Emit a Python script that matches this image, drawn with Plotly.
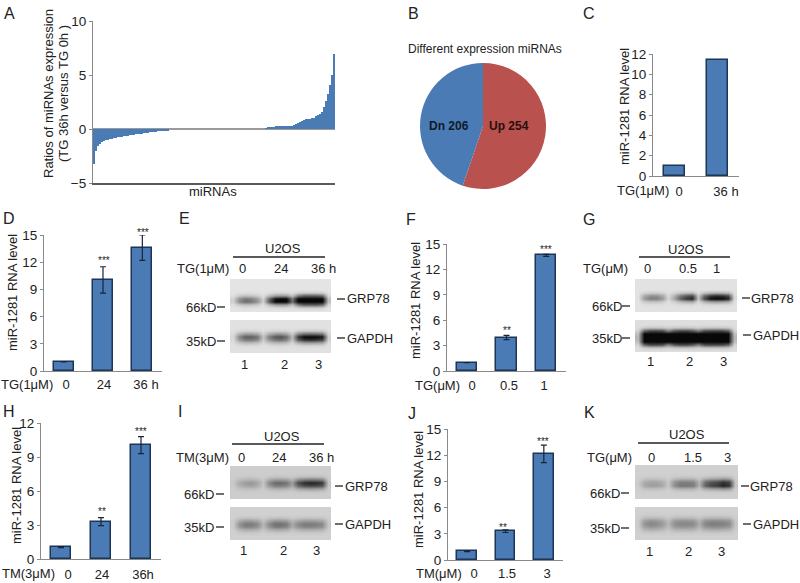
import numpy as np
import plotly.graph_objects as go

W, H = 800, 583
BLUE = "#4a7bb5"
RED = "#b9524f"
EDGE = "#1d3557"
AXIS = "#8a8a8a"
TXT = "#222222"
FONT = "Liberation Sans"

# Panel A: ratios, sorted
ratio_down = [-3.2,-2.0,-1.6,-1.35,-1.2,-1.1,-1.05,-1.0,-0.95,-0.9,-0.85,-0.8,-0.78,-0.75,-0.7,-0.68,-0.65,-0.62,-0.6,
              -0.55,-0.52,-0.5,-0.48,-0.45,-0.42,-0.4,-0.38,-0.35,-0.32,-0.3,-0.28,-0.25,-0.22,-0.2,-0.18,-0.15,-0.12,-0.1]
ratio_flat = [0.0]*48
ratio_up = [0.05,0.1,0.12,0.15,0.2,0.25,0.25,0.25,0.25,0.25,0.28,0.28,0.3,0.3,0.35,0.45,0.55,0.65,0.72,0.8,0.9,
            0.95,0.95,1.0,1.05,1.2,1.3,1.4,1.6,2.0,2.6,3.2,4.1,5.0,6.9]
# Panel B
pie_labels = ["Up 254", "Dn 206"]
pie_values = [254, 206]
# Panel C
c_values = [1, 11.4]
# Panels D, F, H, J
d_values = [1, 10.05, 13.6];  d_err = [0, 1.45, 1.4]
f_values = [1, 3.95, 13.65];  f_err = [0, 0.25, 0.12]
h_values = [1.05, 3.3, 10.05]; h_err = [0.05, 0.35, 0.75]
j_values = [1.0, 3.3, 12.15]; j_err = [0.05, 0.15, 1.0]

# Blots: column darkness across the lanes, row weight down the membrane
e_grp = [20,90,120,110,80,20,140,230,250,240,120,350,450,450,450,400,40]
e_gap = [10,90,130,130,110,30,100,135,145,120,40,170,220,230,220,200,20]
g_grp = [0,70,100,100,75,10,60,130,170,190,30,150,210,230,220,190,10]
g_gap = [40,400,500,500,480,300,450,500,500,450,320,480,500,500,500,420,40]
i_grp = [5,35,50,55,40,10,70,100,100,90,50,130,160,170,165,150,10]
i_gap = [5,60,85,85,70,25,70,95,95,85,40,70,85,85,80,70,10]
k_grp = [5,40,50,50,40,10,65,90,90,85,30,110,140,150,175,155,10]
k_gap = [5,60,75,70,55,25,65,75,75,70,35,75,85,85,80,70,10]
e_grp_rows = [0,0,0,0,.05,.3,.9,1,.3,.05,0]
e_gap_rows = [0,0,0,.1,.5,1,.8,.3,.05,0,0]
g_grp_rows = [0,0,0,0,.2,.8,1,.3,.05,0,0]
g_gap_rows = [0,0,.05,.3,.8,1,1,.8,.3,.05,0]
i_grp_rows = [0,0,0,.1,.5,1,.8,.3,.05,0,0]
i_gap_rows = [0,0,0,.15,.6,1,.9,.4,.1,0,0]
k_grp_rows = [0,0,0,.05,.3,.9,1,.35,.05,0,0]
k_gap_rows = [0,0,.05,.3,.8,1,.8,.4,.1,0,0]

fig = go.Figure()
axis_count = [0]
layout = {}
annots = []
shapes = []

def px(x): return x / W
def py(y): return 1 - y / H

def text(x, y, s, size=13, rot=0, color=TXT, bold=False):
    annots.append(dict(x=px(x), y=py(y), xref="paper", yref="paper", text=f"<b>{s}</b>" if bold else s,
                       showarrow=False, xanchor="center", yanchor="middle", textangle=rot,
                       font=dict(family=FONT, size=size, color=color)))

def ltext(x, y, s, size=13):
    annots.append(dict(x=px(x), y=py(y), xref="paper", yref="paper", text=s, showarrow=False,
                       xanchor="left", yanchor="middle", xshift=-1, font=dict(family=FONT, size=size, color=TXT)))

def line(x0, y0, x1, y1, color="#222222", width=1.3):
    shapes.append(dict(type="line", xref="paper", yref="paper", x0=px(x0), x1=px(x1), y0=py(y0), y1=py(y1),
                       line=dict(color=color, width=width)))

def axes(x0, x1, ytop, ybot, xopts, yopts):
    axis_count[0] += 1
    i = axis_count[0]
    n = "" if i == 1 else str(i)
    layout["xaxis" + n] = dict(domain=[px(x0), px(x1)], anchor="y" + n, automargin=False, **xopts)
    layout["yaxis" + n] = dict(domain=[py(ybot), py(ytop)], anchor="x" + n, automargin=False, **yopts)
    return "x" + n, "y" + n

def bars(x0, x1, ytop, ybot, ymax, dtick, values, err, labels, label_px, standoff):
    n = len(values)
    cat = (x1 - x0) / n
    tickvals = [(p - x0) / cat - 0.5 for p in label_px]
    xa, ya = axes(x0, x1, ytop, ybot,
        dict(range=[-0.5, n - 0.5], tickmode="array", tickvals=tickvals, ticktext=labels, ticks="outside",
             ticklen=standoff, tickcolor="rgba(0,0,0,0)", showgrid=False, zeroline=False, showline=True,
             linecolor=AXIS, linewidth=1.2, tickfont=dict(family=FONT, size=13, color=TXT)),
        dict(range=[0, ymax], dtick=dtick, ticks="outside", ticklen=3, tickcolor=AXIS, showgrid=False, zeroline=False,
             showline=True, linecolor=AXIS, linewidth=1.2, tickfont=dict(family=FONT, size=13.5, color=TXT)))
    kw = {}
    if err is not None:
        kw["error_y"] = dict(type="data", array=err, symmetric=True, color="#16263a", thickness=1.2, width=3)
    fig.add_trace(go.Bar(x=list(range(n)), y=values, width=0.51, xaxis=xa, yaxis=ya, showlegend=False,
                         marker=dict(color=BLUE, line=dict(color=EDGE, width=1.5)), **kw))

def blot(x0, x1, ytop, ybot, bg, dark, rows):
    z = bg - np.outer(rows, dark)
    xa, ya = axes(x0, x1, ytop, ybot,
        dict(visible=False, range=[-0.5, len(dark) - 0.5]),
        dict(visible=False, range=[len(rows) - 0.5, -0.5]))
    fig.add_trace(go.Heatmap(z=np.clip(z, 8, 255).tolist(), xaxis=xa, yaxis=ya, zmin=0, zmax=255, zsmooth="best",
                             showscale=False, hoverinfo="skip",
                             colorscale=[[0, "#000000"], [1, "#ffffff"]]))

# Panel A
ratios = ratio_down + ratio_flat + ratio_up
xa, ya = axes(93, 335, 21, 183,
    dict(range=[-0.5, len(ratios) - 0.5], showticklabels=False, ticks="", showgrid=False, zeroline=False,
         showline=True, linecolor="#5a5a5a", linewidth=2),
    dict(range=[-5, 10], tickvals=[-5, 0, 5, 10], ticks="outside", ticklen=3, tickcolor=AXIS, showgrid=False,
         zeroline=True, zerolinecolor="#9a9a9a", zerolinewidth=1.5, showline=True, linecolor=AXIS, linewidth=1.2,
         tickfont=dict(family=FONT, size=13.5, color=TXT)))
fig.add_trace(go.Bar(x=list(range(len(ratios))), y=ratios, width=1, xaxis=xa, yaxis=ya, showlegend=False,
                     marker=dict(color=BLUE, line=dict(width=0))))
text(48, 94, "Ratios of miRNAs expression", rot=-90)
text(63, 94, "(TG 36h versus TG 0h )", rot=-90)
text(213, 191, "miRNAs")

# Panel B
fig.add_trace(go.Pie(labels=pie_labels, values=pie_values, sort=False, direction="clockwise", rotation=0,
                     marker=dict(colors=[RED, BLUE], line=dict(width=0)), textinfo="none", showlegend=False,
                     domain=dict(x=[px(420), px(546)], y=[py(189), py(63)])))
text(485, 49, "Different expression miRNAs", size=12)
text(449, 126, "Dn 206", size=12, bold=True, color="#0d1b2a")
text(509, 126, "Up 254", size=12, bold=True, color="#2a0d0d")

# Panel C
bars(653, 739, 54, 176, 12, 2, c_values, None, ["0", "36 h"], [679, 726], 3)
text(625, 107, "miR-1281 RNA level", rot=-90)
text(643, 190, "TG(1μM)")

# Panel D
bars(44, 162, 235, 371, 15, 3, d_values, d_err, ["0", "24", "36 h"], [66, 104, 146], 1)
text(12, 293, "miR-1281 RNA level", rot=-90)
text(27, 384, "TG(1μM)")
# Panel F
bars(447, 566, 244, 371, 15, 3, f_values, f_err, ["0", "0.5", "1"], [472, 509, 544], 2)
text(415, 301, "miR-1281 RNA level", rot=-90)
text(437, 385, "TG(μM)")
# Panel H
bars(41, 161, 423, 559, 12, 3, h_values, h_err, ["0", "24", "36h"], [68, 102, 143], 3)
text(16, 486, "miR-1281 RNA level", rot=-90)
text(29, 573, "TM(3μM)")
# Panel J
bars(448, 563, 429, 560, 15, 3, j_values, j_err, ["0", "1.5", "3"], [474, 507, 547], 1)
text(418, 490, "miR-1281 RNA level", rot=-90)
text(439, 573, "TM(μM)")

for x, y, s in [(104, 261, "***"), (143, 232, "***"), (507, 330, "**"), (546, 250, "***"),
                (102, 511, "**"), (141, 431, "***"), (503, 527, "**"), (543, 441, "***")]:
    text(x, y, s, size=10)

# Blots
blot(230, 331, 279, 312, 228, e_grp, e_grp_rows)
blot(230, 331, 320, 353, 225, e_gap, e_gap_rows)
blot(635, 737, 279, 312, 226, g_grp, g_grp_rows)
blot(635, 737, 320, 352, 222, g_gap, g_gap_rows)
blot(230, 331, 466, 499, 205, i_grp, i_grp_rows)
blot(230, 331, 507, 540, 208, i_gap, i_gap_rows)
blot(635, 738, 465, 499, 208, k_grp, k_grp_rows)
blot(635, 738, 507, 540, 208, k_gap, k_gap_rows)

blot_text = [
    dict(u=(283, 248), ln=(233, 325, 257), t=("TG(1μM)", 203, 269), lab=[("0", 242), ("24", 281), ("36 h", 323)],
         kd=(201, 307, 341, 217), g=(337, 346, 299), a=(337, 346, 338), n=[244, 284, 318], ny=364),
    dict(u=(686, 249), ln=(639, 730, 257), t=("TG(μM)", 605, 268), lab=[("0", 647), ("0.5", 688), ("1", 716)],
         kd=(607, 306, 338, 622), g=(742, 750, 298), a=(743, 752, 335), n=[650, 689, 723], ny=361),
    dict(u=(282, 436), ln=(232, 324, 444), t=("TM(3μM)", 202, 457), lab=[("0", 241), ("24", 279), ("36 h", 321)],
         kd=(199, 494, 527, 216), g=(335, 344, 486), a=(335, 344, 524), n=[243, 283, 316], ny=550),
    dict(u=(687, 434), ln=(638, 729, 443), t=("TG(μM)", 609, 457), lab=[("0", 651), ("1.5", 693), ("3", 727)],
         kd=(605, 493, 528, 621), g=(741, 749, 486), a=(743, 752, 524), n=[649, 688, 721], ny=551),
]
for b in blot_text:
    text(b["u"][0], b["u"][1], "U2OS")
    line(b["ln"][0], b["ln"][2], b["ln"][1], b["ln"][2])
    text(b["t"][1], b["t"][2], b["t"][0])
    for s, x in b["lab"]:
        text(x, b["t"][2], s)
    cx, y66, y35, dx = b["kd"]
    text(cx, y66, "66kD"); line(dx, y66, dx + 8, y66)
    text(cx, y35, "35kD"); line(dx, y35, dx + 8, y35)
    for key, name in (("g", "GRP78"), ("a", "GAPDH")):
        d0, tx, y = b[key]
        line(d0, y, d0 + 8, y)
        ltext(tx, y, name)
    for k, x in enumerate(b["n"]):
        text(x, b["ny"], str(k + 1))

# Panel letters
for s, x, y in [("A", 9, 13), ("B", 413, 13), ("C", 589, 13), ("D", 9, 218), ("E", 184, 218), ("F", 411, 219),
                ("G", 589, 219), ("H", 9, 411), ("I", 180, 411), ("J", 412, 413), ("K", 589, 412)]:
    text(x, y, s, size=16)

fig.update_layout(width=W, height=H, margin=dict(l=0, r=0, t=0, b=0), paper_bgcolor="white", plot_bgcolor="white",
                  bargap=0, barmode="overlay", annotations=annots, shapes=shapes, showlegend=False, **layout)
fig.write_html("out.html", post_script="document.body.style.margin='0';", config=dict(displayModeBar=False))
